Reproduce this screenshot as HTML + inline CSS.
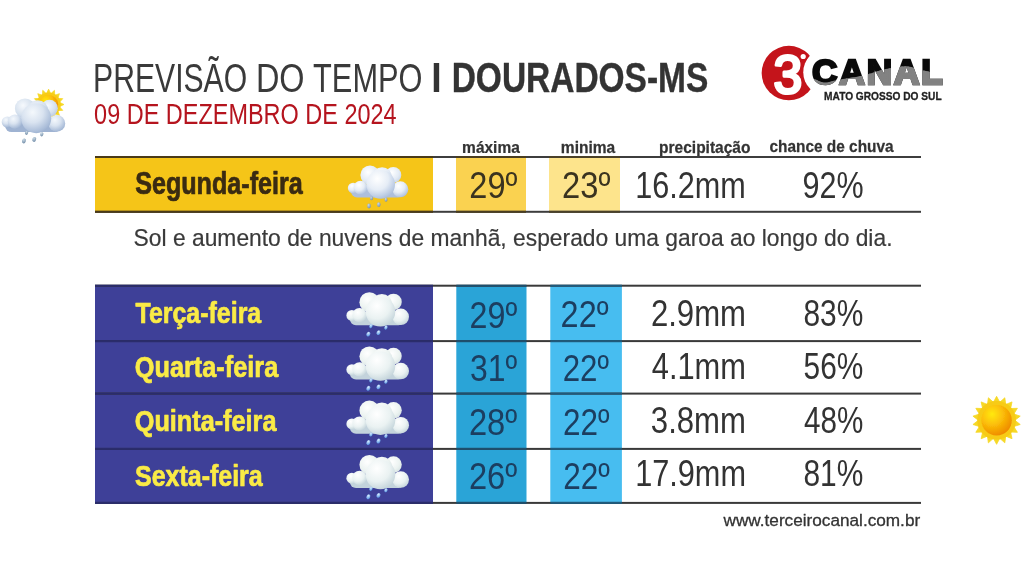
<!DOCTYPE html>
<html lang="pt-BR"><head><meta charset="utf-8"><title>Previsão do Tempo | Dourados-MS</title>
<style>
html,body{margin:0;padding:0;background:#fff;}
body{width:1024px;height:576px;overflow:hidden;font-family:"Liberation Sans",sans-serif;}
svg{display:block;font-family:"Liberation Sans",sans-serif;}
</style></head><body>
<svg width="1024" height="576" viewBox="0 0 1024 576">
<defs>
<radialGradient id="cg" cx="0.38" cy="0.3" r="0.78">
<stop offset="0" stop-color="#ffffff"/><stop offset="0.5" stop-color="#e6edf6"/><stop offset="0.85" stop-color="#b7c8e2"/><stop offset="1" stop-color="#a3b6d8"/>
</radialGradient>
<radialGradient id="cgb" cx="0.4" cy="0.35" r="0.75">
<stop offset="0" stop-color="#ffffff"/><stop offset="0.6" stop-color="#e3ebf5"/><stop offset="1" stop-color="#c3d1e6"/>
</radialGradient>
<radialGradient id="cgw" cx="0.38" cy="0.3" r="0.8">
<stop offset="0" stop-color="#ffffff"/><stop offset="0.55" stop-color="#eaf2f2"/><stop offset="0.9" stop-color="#c6d6dc"/><stop offset="1" stop-color="#b5c8d4"/>
</radialGradient>
<radialGradient id="cgwb" cx="0.4" cy="0.35" r="0.75">
<stop offset="0" stop-color="#ffffff"/><stop offset="0.6" stop-color="#ecf3f1"/><stop offset="1" stop-color="#d2dfe0"/>
</radialGradient>
<radialGradient id="dg" cx="0.35" cy="0.3" r="0.8">
<stop offset="0" stop-color="#c8d8e4"/><stop offset="1" stop-color="#6f8aa6"/>
</radialGradient>
<radialGradient id="dgw" cx="0.35" cy="0.3" r="0.8">
<stop offset="0" stop-color="#d8ecff"/><stop offset="1" stop-color="#4f8fe0"/>
</radialGradient>
<radialGradient id="sg" cx="0.35" cy="0.3" r="0.75">
<stop offset="0" stop-color="#ffe90c"/><stop offset="0.45" stop-color="#fcc008"/><stop offset="1" stop-color="#ee8800"/>
</radialGradient>
<filter id="soft" x="-10%" y="-10%" width="120%" height="120%"><feGaussianBlur stdDeviation="0.45"/></filter>
<radialGradient id="cgs" cx="0.38" cy="0.3" r="0.78"><stop offset="0" stop-color="#f4f8fc"/><stop offset="0.45" stop-color="#d9e3f0"/><stop offset="0.85" stop-color="#a9bcd8"/><stop offset="1" stop-color="#95aacb"/></radialGradient>
<radialGradient id="cgsb" cx="0.4" cy="0.35" r="0.75"><stop offset="0" stop-color="#f6f9fd"/><stop offset="0.6" stop-color="#d6e1ee"/><stop offset="1" stop-color="#b5c6de"/></radialGradient>
<g id="cloud">
<rect x="3" y="19" width="53" height="12.8" rx="6" fill="#aebfdc"/>
<circle cx="21.9" cy="9.4" r="9.6" fill="url(#cgb)"/><circle cx="45.2" cy="9.2" r="8" fill="url(#cgb)"/><circle cx="34" cy="11.6" r="10" fill="url(#cgb)"/>
<circle cx="5" cy="22.3" r="5.3" fill="url(#cg)"/><circle cx="12.4" cy="22" r="6.9" fill="url(#cg)"/>
<circle cx="52.2" cy="23.6" r="8" fill="url(#cg)"/><circle cx="32.6" cy="18.7" r="14.3" fill="url(#cg)"/>
<g fill="url(#dg)">
<ellipse cx="23.4" cy="32.6" rx="1.5" ry="2"/><ellipse cx="37.9" cy="34" rx="1.5" ry="2"/>
<ellipse cx="20.9" cy="40.3" rx="1.8" ry="2.4"/><ellipse cx="30.7" cy="38.9" rx="1.8" ry="2.4"/>
</g></g>
<g id="cloudw">
<rect x="3" y="19" width="53" height="12.8" rx="6" fill="#c3d3dc"/>
<circle cx="21.9" cy="9.4" r="9.6" fill="url(#cgwb)"/><circle cx="45.2" cy="9.2" r="8" fill="url(#cgwb)"/><circle cx="34" cy="11.6" r="10" fill="url(#cgwb)"/>
<circle cx="5" cy="22.3" r="5.3" fill="url(#cgw)"/><circle cx="12.4" cy="22" r="6.9" fill="url(#cgw)"/>
<circle cx="52.2" cy="23.6" r="8" fill="url(#cgw)"/><circle cx="32.6" cy="18.7" r="14.3" fill="url(#cgw)"/>
<g fill="url(#dgw)">
<ellipse cx="23.4" cy="32.6" rx="1.5" ry="2" transform="rotate(28 23.4 32.6)"/><ellipse cx="37.9" cy="34" rx="1.5" ry="2" transform="rotate(28 37.9 34)"/>
<ellipse cx="20.9" cy="40.3" rx="1.8" ry="2.4" transform="rotate(28 20.9 40.3)"/><ellipse cx="30.7" cy="38.9" rx="1.8" ry="2.4" transform="rotate(28 30.7 38.9)"/>
</g></g>
<g id="clouds">
<rect x="3" y="19" width="53" height="12.8" rx="6" fill="#9fb3d2"/>
<circle cx="21.9" cy="9.4" r="9.6" fill="url(#cgsb)"/><circle cx="45.2" cy="9.2" r="8" fill="url(#cgsb)"/><circle cx="34" cy="11.6" r="10" fill="url(#cgsb)"/>
<circle cx="5" cy="22.3" r="5.3" fill="url(#cgs)"/><circle cx="12.4" cy="22" r="6.9" fill="url(#cgs)"/>
<circle cx="52.2" cy="23.6" r="8" fill="url(#cgs)"/><circle cx="32.6" cy="18.7" r="14.3" fill="url(#cgs)"/>
<g fill="url(#dg)">
<ellipse cx="23.4" cy="32.6" rx="1.5" ry="2" transform="rotate(20 23.4 32.6)"/><ellipse cx="37.9" cy="34" rx="1.5" ry="2" transform="rotate(20 37.9 34)"/>
<ellipse cx="20.9" cy="40.3" rx="1.8" ry="2.4" transform="rotate(20 20.9 40.3)"/><ellipse cx="30.7" cy="38.9" rx="1.8" ry="2.4" transform="rotate(20 30.7 38.9)"/>
</g></g>
<clipPath id="wave"><path d="M805 76 L813.6 78.8 C 819 81, 822 82.6, 824.9 82.6 S 832 81.2, 836.1 80.2 S 852 77.8, 857.2 76.7 S 864 75.4, 867 74.6 S 874 72.6, 878.3 71.1 S 886 69, 891 68 S 901 66, 906.5 66.2 S 913 68, 916.3 69 S 922 70.2, 926.1 71.1 S 930 72.4, 933.2 73.2 S 940 73.9, 950 74 L950 100 L805 100 Z"/></clipPath>
</defs>
<rect width="1024" height="576" fill="#fff"/>

<text transform="translate(93.06,92.20) scale(0.7389,1)" font-size="40.8" fill="#3a3a3a">PREVISÃO</text>
<text transform="translate(255.88,92.20) scale(0.7946,1)" font-size="40.8" fill="#3a3a3a">DO</text>
<text transform="translate(313.07,92.20) scale(0.7542,1)" font-size="40.8" fill="#3a3a3a">TEMPO</text>
<text transform="translate(431.25,92.30) scale(0.8934,1)" font-size="42" font-weight="bold" fill="#333">I</text>
<text transform="translate(451.68,92.30) scale(0.7972,1)" font-size="42" font-weight="bold" fill="#333" stroke="#333" stroke-width="0.4" stroke-linejoin="round">DOURADOS-MS</text>
<text transform="translate(94.12,124.30) scale(0.8010,1)" font-size="29.3" fill="#b5141e">09 DE DEZEMBRO DE 2024</text>
<g id="logo">
<circle cx="788.85" cy="73.05" r="27.2" fill="#c4141b"/>
<circle cx="826.75" cy="72.2" r="23.5" fill="#fff"/>
<circle cx="803.2" cy="56.5" r="4.6" fill="#c4141b"/><circle cx="803.2" cy="56.5" r="2.6" fill="#fff"/>
<text transform="translate(773.38,93.30) scale(0.9481,1)" font-size="54.5" fill="#fff" stroke="#fff" stroke-width="3.1" stroke-linejoin="round">3</text>
<text transform="translate(812.00,84.00) scale(1.0062,1)" font-size="35" font-weight="bold" fill="#0a0a0a" stroke="#0a0a0a" stroke-width="2.4" stroke-linejoin="miter" letter-spacing="1.9">CANAL</text>
<g clip-path="url(#wave)"><text transform="translate(812.00,84.00) scale(1.0062,1)" font-size="35" font-weight="bold" fill="#828282" stroke="#828282" stroke-width="2.4" stroke-linejoin="miter" letter-spacing="1.9">CANAL</text></g>
<text transform="translate(824.09,100.10) scale(0.9242,1)" font-size="11" font-weight="bold" fill="#222" stroke="#222" stroke-width="0.3" stroke-linejoin="round">MATO GROSSO DO SUL</text>
</g>
<text transform="translate(462.10,153.30) scale(0.9231,1)" font-size="16.8" font-weight="bold" fill="#333" stroke="#333" stroke-width="0.25" stroke-linejoin="round">máxima</text>
<text transform="translate(560.85,152.90) scale(0.9259,1)" font-size="16.8" font-weight="bold" fill="#333" stroke="#333" stroke-width="0.25" stroke-linejoin="round">minima</text>
<text transform="translate(659.10,152.90) scale(0.9236,1)" font-size="16.8" font-weight="bold" fill="#333" stroke="#333" stroke-width="0.25" stroke-linejoin="round">precipitação</text>
<text transform="translate(769.47,151.60) scale(0.9182,1)" font-size="16.8" font-weight="bold" fill="#333" stroke="#333" stroke-width="0.25" stroke-linejoin="round">chance de chuva</text>
<rect x="95" y="157" width="338" height="54.5" fill="#f5c518"/>
<rect x="456" y="157" width="70" height="54.5" fill="#fad250"/>
<rect x="549" y="157" width="71" height="54.5" fill="#fde48c"/>
<rect x="95" y="156" width="826" height="2" fill="#3d3d3d"/><rect x="95" y="156" width="338" height="2" fill="#4a3a18"/><rect x="456" y="156" width="70" height="2" fill="#4a3d20"/><rect x="549" y="156" width="71" height="2" fill="#4a4028"/>
<rect x="95" y="210.8" width="826" height="2" fill="#3d3d3d"/><rect x="95" y="210.8" width="338" height="2" fill="#4a3a18"/><rect x="456" y="210.8" width="70" height="2" fill="#4a3d20"/><rect x="549" y="210.8" width="71" height="2" fill="#4a4028"/>
<text transform="translate(135.15,193.90) scale(0.8245,1)" font-size="30.5" font-weight="bold" fill="#3a2b12" stroke="#3a2b12" stroke-width="0.7" stroke-linejoin="round">Segunda-feira</text>
<use href="#cloud" x="348.1" y="165.7"/>
<text transform="translate(469.35,197.80) scale(0.8679,1)" font-size="37.5" fill="#3a3320">29º</text>
<text transform="translate(562.09,197.80) scale(0.8726,1)" font-size="37.5" fill="#3a3320">23º</text>
<text transform="translate(635.13,197.80) scale(0.8167,1)" font-size="37.5" fill="#333">16.2mm</text>
<text transform="translate(802.54,197.80) scale(0.8136,1)" font-size="37.5" fill="#333">92%</text>
<text transform="translate(133.61,246.00) scale(0.9930,1)" font-size="23" fill="#3a3a3a" stroke="#3a3a3a" stroke-width="0.2" stroke-linejoin="round">Sol e aumento de nuvens de manhã, esperado uma garoa ao longo do dia.</text>
<rect x="95" y="285.7" width="338" height="217.2" fill="#3e4098"/>
<rect x="456.3" y="285.7" width="70.2" height="217.2" fill="#2aa4d7"/>
<rect x="550.3" y="285.7" width="71.6" height="217.2" fill="#47bdf0"/>
<rect x="95" y="284.7" width="826" height="2" fill="#3a3a3a"/>
<rect x="95" y="284.7" width="338" height="2" fill="#2a2c6c"/>
<rect x="456.3" y="284.7" width="70.2" height="2" fill="#1d4f6e"/>
<rect x="550.3" y="284.7" width="71.6" height="2" fill="#1f5a7c"/>
<rect x="95" y="340.1" width="826" height="2" fill="#3a3a3a"/>
<rect x="95" y="340.1" width="338" height="2" fill="#2a2c6c"/>
<rect x="456.3" y="340.1" width="70.2" height="2" fill="#1d4f6e"/>
<rect x="550.3" y="340.1" width="71.6" height="2" fill="#1f5a7c"/>
<rect x="95" y="392.6" width="826" height="2" fill="#3a3a3a"/>
<rect x="95" y="392.6" width="338" height="2" fill="#2a2c6c"/>
<rect x="456.3" y="392.6" width="70.2" height="2" fill="#1d4f6e"/>
<rect x="550.3" y="392.6" width="71.6" height="2" fill="#1f5a7c"/>
<rect x="95" y="447.9" width="826" height="2" fill="#3a3a3a"/>
<rect x="95" y="447.9" width="338" height="2" fill="#2a2c6c"/>
<rect x="456.3" y="447.9" width="70.2" height="2" fill="#1d4f6e"/>
<rect x="550.3" y="447.9" width="71.6" height="2" fill="#1f5a7c"/>
<rect x="95" y="501.9" width="826" height="2" fill="#3a3a3a"/>
<rect x="95" y="501.9" width="338" height="2" fill="#2a2c6c"/>
<rect x="456.3" y="501.9" width="70.2" height="2" fill="#1d4f6e"/>
<rect x="550.3" y="501.9" width="71.6" height="2" fill="#1f5a7c"/>
<text transform="translate(135.54,322.75) scale(0.8317,1)" font-size="30" font-weight="bold" fill="#faeb46" stroke="#faeb46" stroke-width="0.7" stroke-linejoin="round">Terça-feira</text>
<use href="#cloudw" transform="translate(346.7 292.4) scale(1.035)"/>
<text transform="translate(469.62,327.60) scale(0.8594,1)" font-size="37.5" fill="#1c3e60">29º</text>
<text transform="translate(560.61,327.10) scale(0.8651,1)" font-size="37.5" fill="#1c3e60">22º</text>
<text transform="translate(650.92,325.50) scale(0.8296,1)" font-size="37.5" fill="#333">2.9mm</text>
<text transform="translate(803.47,325.50) scale(0.7975,1)" font-size="37.5" fill="#333">83%</text>
<text transform="translate(134.78,377.00) scale(0.8436,1)" font-size="30" font-weight="bold" fill="#faeb46" stroke="#faeb46" stroke-width="0.7" stroke-linejoin="round">Quarta-feira</text>
<use href="#cloudw" transform="translate(346.7 346.6) scale(1.035)"/>
<text transform="translate(470.06,381.00) scale(0.8514,1)" font-size="37.5" fill="#1c3e60">31º</text>
<text transform="translate(562.72,381.10) scale(0.8340,1)" font-size="37.5" fill="#1c3e60">22º</text>
<text transform="translate(651.76,379.10) scale(0.8221,1)" font-size="37.5" fill="#333">4.1mm</text>
<text transform="translate(803.56,379.10) scale(0.7964,1)" font-size="37.5" fill="#333">56%</text>
<text transform="translate(134.78,431.20) scale(0.8418,1)" font-size="30" font-weight="bold" fill="#faeb46" stroke="#faeb46" stroke-width="0.7" stroke-linejoin="round">Quinta-feira</text>
<use href="#cloudw" transform="translate(346.7 400.8) scale(1.035)"/>
<text transform="translate(468.94,434.80) scale(0.8717,1)" font-size="37.5" fill="#1c3e60">28º</text>
<text transform="translate(562.90,435.00) scale(0.8396,1)" font-size="37.5" fill="#1c3e60">22º</text>
<text transform="translate(650.84,432.70) scale(0.8303,1)" font-size="37.5" fill="#333">3.8mm</text>
<text transform="translate(804.04,432.70) scale(0.7898,1)" font-size="37.5" fill="#333">48%</text>
<text transform="translate(135.04,485.50) scale(0.8325,1)" font-size="30" font-weight="bold" fill="#faeb46" stroke="#faeb46" stroke-width="0.7" stroke-linejoin="round">Sexta-feira</text>
<use href="#cloudw" transform="translate(346.7 455.1) scale(1.035)"/>
<text transform="translate(468.94,488.60) scale(0.8717,1)" font-size="37.5" fill="#1c3e60">26º</text>
<text transform="translate(563.15,489.00) scale(0.8425,1)" font-size="37.5" fill="#1c3e60">22º</text>
<text transform="translate(635.13,486.25) scale(0.8186,1)" font-size="37.5" fill="#333">17.9mm</text>
<text transform="translate(803.47,486.25) scale(0.7975,1)" font-size="37.5" fill="#333">81%</text>
<text transform="translate(723.55,526.40) scale(1.0113,1)" font-size="17" fill="#333" stroke="#333" stroke-width="0.3" stroke-linejoin="round">www.terceirocanal.com.br</text>
<g filter="url(#soft)"><polygon points="996.60,396.30 999.78,402.28 1004.81,397.75 1005.75,404.45 1012.03,401.91 1010.62,408.54 1017.38,408.30 1013.80,414.04 1020.24,416.13 1014.90,420.30 1020.24,424.47 1013.80,426.56 1017.38,432.30 1010.62,432.06 1012.03,438.69 1005.75,436.15 1004.81,442.85 999.78,438.32 996.60,444.30 993.42,438.32 988.39,442.85 987.45,436.15 981.17,438.69 982.58,432.06 975.82,432.30 979.40,426.56 972.96,424.47 978.30,420.30 972.96,416.13 979.40,414.04 975.82,408.30 982.58,408.54 981.17,401.91 987.45,404.45 988.39,397.75 993.42,402.28" fill="#f6d826" stroke="#f6d826" stroke-width="0.8" stroke-linejoin="round"/><circle cx="996.6" cy="420.3" r="19.3" fill="#f7cb14"/><circle cx="996.6" cy="420.3" r="15.2" fill="url(#sg)"/></g>
<g filter="url(#soft)"><polygon points="48.60,89.20 50.75,93.71 54.46,90.36 54.71,95.35 59.42,93.68 57.75,98.39 62.74,98.64 59.39,102.35 63.90,104.50 59.39,106.65 62.74,110.36 57.75,110.61 59.42,115.32 54.71,113.65 54.46,118.64 50.75,115.29 48.60,119.80 46.45,115.29 42.74,118.64 42.49,113.65 37.78,115.32 39.45,110.61 34.46,110.36 37.81,106.65 33.30,104.50 37.81,102.35 34.46,98.64 39.45,98.39 37.78,93.68 42.49,95.35 42.74,90.36 46.45,93.71" fill="#f6d826" stroke="#f6d826" stroke-width="0.8" stroke-linejoin="round"/><circle cx="48.6" cy="104.5" r="12" fill="#f7cb14"/><circle cx="48.6" cy="104.5" r="9.6" fill="url(#sg)"/></g>
<use href="#clouds" transform="translate(2 98.6) scale(1.05)"/>
</svg></body></html>
